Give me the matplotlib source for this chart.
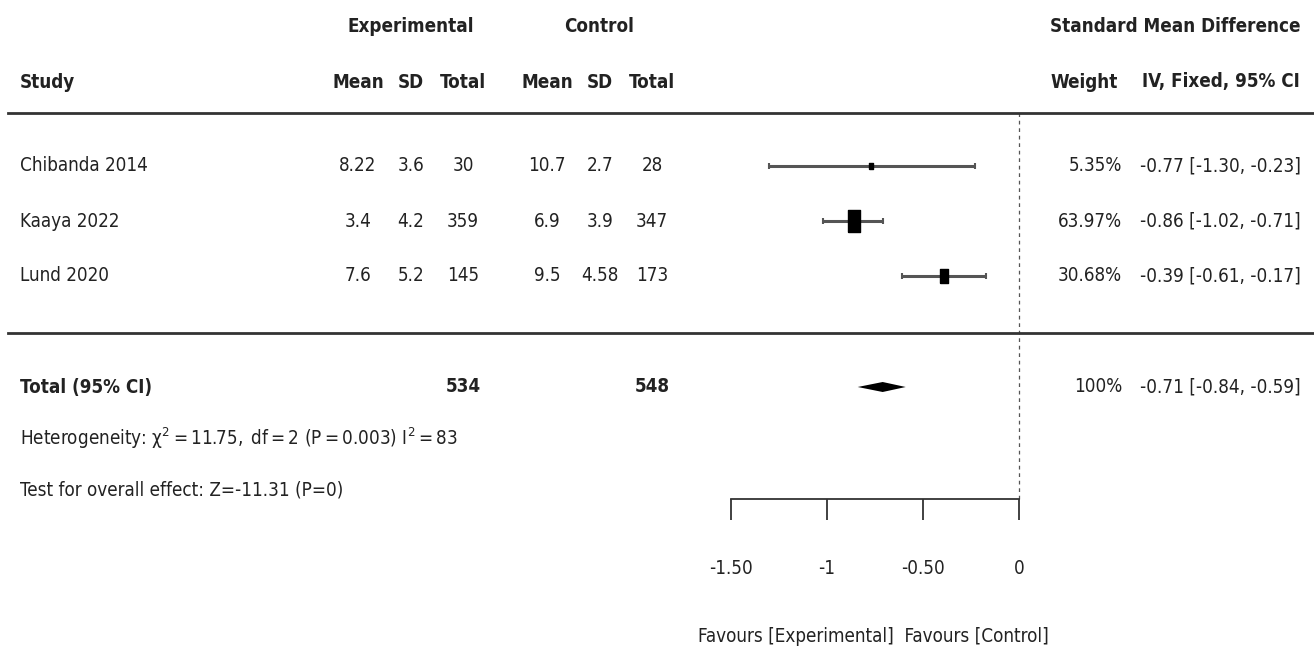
"""Forest plot: standardised mean difference, fixed effect."""

import matplotlib

matplotlib.use("Agg")
import matplotlib.pyplot as plt
import numpy as np
from matplotlib.markers import MarkerStyle

studies = ["Chibanda 2014", "Kaaya 2022", "Lund 2020"]
exp_mean = [8.22, 3.4, 7.6]
exp_sd = [3.6, 4.2, 5.2]
exp_n = [30, 359, 145]
ctl_mean = [10.7, 6.9, 9.5]
ctl_sd = [2.7, 3.9, 4.58]
ctl_n = [28, 347, 173]
weight = [5.35, 63.97, 30.68]
smd = [-0.77, -0.86, -0.39]
ci_lo = [-1.30, -1.02, -0.61]
ci_hi = [-0.23, -0.71, -0.17]

total_smd = -0.71
total_lo = -0.84
total_hi = -0.59
het_chi2 = 11.75
het_df = 2
het_p = 0.003
het_i2 = 83
z_value = -11.31
z_p = 0

tick_values = [-1.5, -1, -0.5, 0]
tick_labels = ["-1.50", "-1", "-0.50", "0"]

W, H = 1314, 651
FS = 13.5
TXT = "#222222"
plt.rcParams["font.family"] = ["DejaVu Sans"]
plt.rcParams["font.stretch"] = "condensed"
plt.rcParams["mathtext.default"] = "regular"

fig = plt.figure(figsize=(W / 100, H / 100), dpi=100)


def put(x, y, s, ha="left", bold=False, size=FS):
    fig.text(x / W, 1 - y / H, s, ha=ha, va="center", fontsize=size,
             fontweight="bold" if bold else "normal", color=TXT,
             fontstretch="condensed")


def hline(y):
    fig.add_artist(plt.Line2D([8 / W, 1], [1 - y / H] * 2, color="#333333", lw=2.0))


# column headers
put(411, 27, "Experimental", ha="center", bold=True)
put(599, 27, "Control", ha="center", bold=True)
put(1300, 27, "Standard Mean Difference", ha="right", bold=True)
put(20, 82, "Study", bold=True)
for x, s in zip([358, 411, 463, 547, 600, 652], ["Mean", "SD", "Total"] * 2):
    put(x, 82, s, ha="center", bold=True)
put(1118, 82, "Weight", ha="right", bold=True)
put(1300, 82, "IV, Fixed, 95% CI", ha="right", bold=True)
hline(113)

row_y = [166, 221, 276]
for i, y in enumerate(row_y):
    put(20, y, studies[i])
    put(358, y, str(exp_mean[i]), ha="center")
    put(411, y, str(exp_sd[i]), ha="center")
    put(463, y, str(exp_n[i]), ha="center")
    put(547, y, str(ctl_mean[i]), ha="center")
    put(600, y, str(ctl_sd[i]), ha="center")
    put(652, y, str(ctl_n[i]), ha="center")
    put(1122, y, f"{weight[i]:.2f}%", ha="right")
    put(1140, y, f"{smd[i]:.2f} [{ci_lo[i]:.2f}, {ci_hi[i]:.2f}]")
hline(333)

total_y = 387
put(20, total_y, "Total (95% CI)", bold=True)
put(463, total_y, str(sum(exp_n)), ha="center", bold=True)
put(652, total_y, str(sum(ctl_n)), ha="center", bold=True)
put(1122, total_y, "100%", ha="right")
put(1140, total_y, f"{total_smd:.2f} [{total_lo:.2f}, {total_hi:.2f}]")
put(20, 438, f"Heterogeneity: $\u03c7^2={het_chi2},\\;df={het_df}\\ (P={het_p})\\ I^2={het_i2}$")
put(20, 490, f"Test for overall effect: Z={z_value} (P={z_p})")

# forest panel, x in SMD units, y in pixel rows
ax = fig.add_axes([731 / W, 1 - 499 / H, (1019 - 731) / W, (499 - 113) / H])
ax.set_xlim(-1.5, 0)
ax.set_ylim(499, 113)
ax.patch.set_alpha(0)
for side in ["top", "left", "right"]:
    ax.spines[side].set_visible(False)
ax.spines["bottom"].set_color("#333333")
ax.spines["bottom"].set_linewidth(1.3)
ax.set_yticks([])
ax.set_xticks(tick_values)
ax.set_xticklabels(tick_labels, fontsize=FS, color=TXT, fontstretch="condensed")
ax.tick_params(axis="x", direction="out", length=15, width=1.3, color="#333333", pad=28)
ax.axvline(0, color="#555555", lw=0.9, ls=(0, (3, 3)), clip_on=False)

rect = MarkerStyle(np.array([[-0.3, -0.5], [0.3, -0.5], [0.3, 0.5], [-0.3, 0.5], [-0.3, -0.5]]))
for i, y in enumerate(row_y):
    ax.errorbar(smd[i], y, xerr=[[smd[i] - ci_lo[i]], [ci_hi[i] - smd[i]]], fmt="none",
                ecolor="#555555", elinewidth=2.2, capsize=2.5, capthick=1.5, clip_on=False)
    ax.plot(smd[i], y, marker=rect, ms=1.9 * np.sqrt(weight[i]), color="black",
            mec="black", ls="none", clip_on=False, zorder=3)

ax.fill([total_lo, total_smd, total_hi, total_smd],
        [total_y, total_y - 5, total_y, total_y + 5], color="black", lw=0, zorder=3)

put(873, 636, "Favours [Experimental]  Favours [Control]", ha="center")

fig.savefig("out.png", dpi=100)
